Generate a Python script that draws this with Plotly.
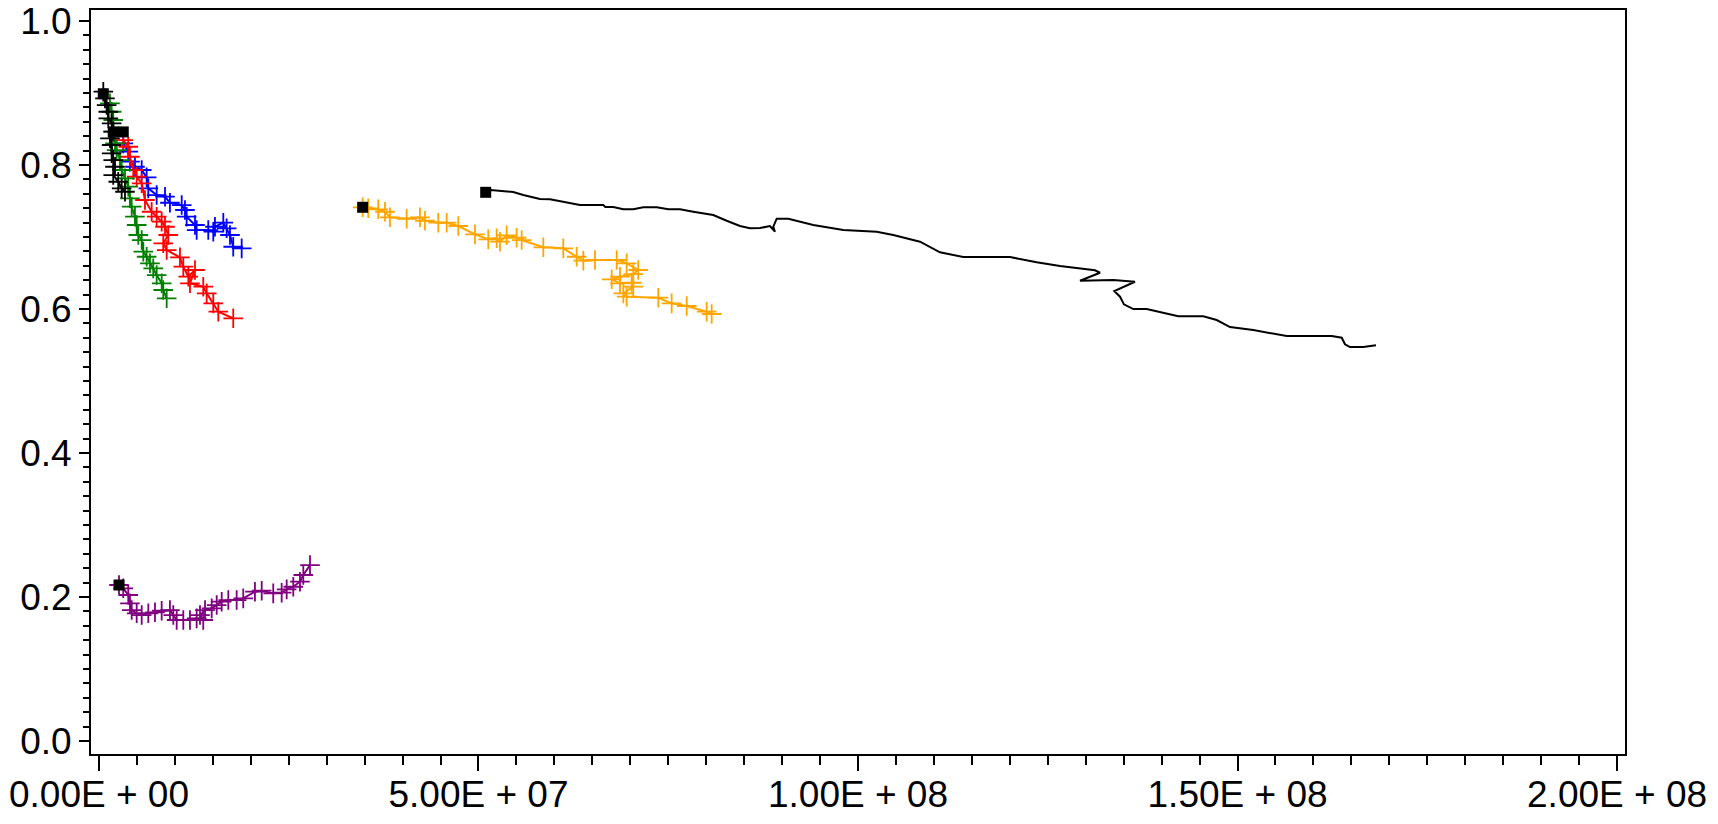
import numpy as np
import plotly.graph_objects as go

SCALE = 1e6  # x values below are in millions

blue_x = [3.20, 3.86, 4.08, 4.74, 5.63, 6.28, 6.50, 7.60, 8.70, 9.35, 10.90, 11.33, 11.55, 12.65, 12.87, 14.40, 15.06, 15.28, 16.38, 16.82, 17.26, 17.69, 18.80]
blue_y = [0.8301, 0.8185, 0.8046, 0.7976, 0.7931, 0.7829, 0.7676, 0.7583, 0.7560, 0.7476, 0.7444, 0.7375, 0.7282, 0.7167, 0.7097, 0.7097, 0.7074, 0.7143, 0.7199, 0.7121, 0.7028, 0.6865, 0.6843]

red_x = [3.20, 3.86, 4.08, 4.52, 4.97, 5.63, 6.06, 6.94, 7.60, 8.26, 8.70, 9.13, 8.47, 8.92, 10.67, 11.11, 11.77, 12.65, 11.99, 13.74, 14.19, 15.06, 15.72, 17.69]
red_y = [0.8347, 0.8254, 0.8115, 0.7931, 0.7838, 0.7746, 0.7514, 0.7351, 0.7282, 0.7213, 0.7143, 0.7028, 0.6913, 0.6819, 0.6718, 0.6588, 0.6449, 0.6542, 0.6357, 0.6310, 0.6218, 0.6079, 0.5963, 0.5871]

green_x = [1.45, 1.67, 1.88, 1.88, 2.11, 2.33, 2.77, 2.99, 3.43, 3.86, 4.08, 4.31, 4.74, 4.97, 5.18, 5.63, 5.84, 6.28, 6.72, 7.15, 7.60, 8.26, 8.47, 8.92]
green_y = [0.8857, 0.8740, 0.8625, 0.8463, 0.8301, 0.8208, 0.8069, 0.7931, 0.7815, 0.7699, 0.7538, 0.7421, 0.7282, 0.7167, 0.7028, 0.6958, 0.6796, 0.6726, 0.6635, 0.6565, 0.6472, 0.6357, 0.6264, 0.6149]

black_x = [0.57, 0.79, 1.01, 1.23, 1.23, 1.67, 1.88, 1.45, 1.67, 1.67, 1.88, 2.11, 1.88, 2.54, 2.99, 3.43]
black_y = [0.9018, 0.8926, 0.8833, 0.8740, 0.8649, 0.8579, 0.8463, 0.8371, 0.8278, 0.8163, 0.8069, 0.7976, 0.7861, 0.7768, 0.7676, 0.7629]

orange_x = [34.74, 35.48, 36.80, 37.68, 38.34, 40.54, 42.29, 42.95, 44.70, 45.81, 47.34, 49.54, 51.29, 52.40, 52.83, 53.71, 55.03, 55.69, 58.54, 61.17, 62.94, 63.81, 65.35, 68.21, 69.52, 71.05, 70.39, 68.64, 67.55, 68.64, 70.18, 70.39, 69.08, 69.52, 73.69, 75.45, 77.43, 80.06, 80.72]
orange_y = [0.7413, 0.7399, 0.7385, 0.7351, 0.7274, 0.7254, 0.7274, 0.7226, 0.7199, 0.7199, 0.7153, 0.7038, 0.6968, 0.6982, 0.6935, 0.7024, 0.6990, 0.6958, 0.6857, 0.6843, 0.6726, 0.6671, 0.6681, 0.6681, 0.6635, 0.6542, 0.6486, 0.6449, 0.6413, 0.6357, 0.6365, 0.6310, 0.6218, 0.6171, 0.6157, 0.6079, 0.6042, 0.5963, 0.5931]

purple_x = [2.64, 3.20, 3.86, 4.08, 4.31, 4.97, 5.63, 6.50, 7.38, 8.26, 9.35, 9.79, 10.24, 11.11, 11.99, 12.87, 13.74, 13.31, 13.97, 14.85, 15.51, 16.17, 17.04, 18.14, 19.01, 20.55, 21.44, 22.96, 24.07, 24.73, 25.60, 26.48, 26.92, 27.80]
purple_y = [0.2167, 0.2121, 0.2028, 0.1913, 0.1819, 0.1774, 0.1750, 0.1774, 0.1788, 0.1810, 0.1819, 0.1750, 0.1681, 0.1681, 0.1681, 0.1704, 0.1681, 0.1750, 0.1819, 0.1843, 0.1889, 0.1935, 0.1958, 0.1958, 0.1982, 0.2074, 0.2088, 0.2051, 0.2060, 0.2107, 0.2143, 0.2213, 0.2306, 0.2444]

line_x = [50.95, 51.61, 54.58, 55.90, 58.10, 59.42, 63.37, 66.44, 66.71, 67.76, 69.08, 70.39, 71.71, 73.48, 75.01, 76.55, 78.30, 80.93, 82.70, 84.45, 85.77, 87.09, 88.40, 89.06, 88.84, 89.29, 90.82, 94.11, 98.06, 99.83, 102.46, 104.65, 108.17, 110.80, 113.87, 120.03, 123.54, 126.61, 131.22, 131.88, 129.25, 133.63, 136.49, 133.77, 134.52, 135.04, 136.27, 138.03, 142.20, 145.49, 147.26, 149.01, 152.08, 156.48, 162.41, 163.73, 164.16, 164.82, 166.57, 168.24]
line_y = [0.7621, 0.7653, 0.7625, 0.7583, 0.7528, 0.7524, 0.7444, 0.7444, 0.7417, 0.7417, 0.7385, 0.7385, 0.7413, 0.7413, 0.7385, 0.7385, 0.7351, 0.7306, 0.7226, 0.7153, 0.7121, 0.7125, 0.7153, 0.7074, 0.7143, 0.7254, 0.7254, 0.7167, 0.7097, 0.7088, 0.7074, 0.7028, 0.6935, 0.6788, 0.6722, 0.6722, 0.6649, 0.6597, 0.6538, 0.6504, 0.6393, 0.6403, 0.6379, 0.6250, 0.6171, 0.6065, 0.6000, 0.6000, 0.5899, 0.5899, 0.5847, 0.5750, 0.5708, 0.5625, 0.5625, 0.5601, 0.5510, 0.5472, 0.5472, 0.5496]

start_x = [0.57, 1.88, 3.20, 34.74, 50.95, 2.64]
start_y = [0.8990, 0.8460, 0.8460, 0.7413, 0.7621, 0.2167]

x_tickvals = [0, 50e6, 100e6, 150e6, 200e6]
x_ticktext = ["0.00E + 00", "5.00E + 07", "1.00E + 08", "1.50E + 08", "2.00E + 08"]
y_tickvals = [0.0, 0.2, 0.4, 0.6, 0.8, 1.0]
y_ticktext = ["0.0", "0.2", "0.4", "0.6", "0.8", "1.0"]

fig = go.Figure()

def add_series(xs, ys, color, markers=True):
    fig.add_trace(go.Scatter(
        x=np.array(xs) * SCALE, y=ys,
        mode="lines+markers" if markers else "lines",
        line=dict(color=color, width=2),
        marker=dict(symbol="cross-thin", size=14, line=dict(color=color, width=1.8)),
        showlegend=False, hoverinfo="skip"))

add_series(blue_x, blue_y, "#0000FF")
add_series(red_x, red_y, "#FF0000")
add_series(green_x, green_y, "#008000")
add_series(black_x, black_y, "#000000")
add_series(orange_x, orange_y, "#FFA500")
add_series(purple_x, purple_y, "#800080")
add_series(line_x, line_y, "#000000", markers=False)

fig.add_trace(go.Scatter(
    x=np.array(start_x) * SCALE, y=start_y, mode="markers",
    marker=dict(symbol="square", size=11, color="#000000"),
    showlegend=False, hoverinfo="skip"))

font = dict(family="Liberation Sans, Arial, sans-serif", size=37, color="#000000")

fig.update_layout(
    width=1718, height=824,
    margin=dict(l=91, r=93, t=10, b=70, autoexpand=False),
    plot_bgcolor="white", paper_bgcolor="white",
    font=font,
    xaxis=dict(
        range=[-1.05e6, 2.0105e8], showgrid=False, zeroline=False, automargin=False,
        showline=True, linecolor="black", linewidth=2, mirror=True,
        ticks="outside", ticklen=15, tickwidth=2, tickcolor="black",
        tickvals=x_tickvals, ticktext=x_ticktext, tickfont=font,
        ticklabelstandoff=-8,
        minor=dict(dtick=5e6, tick0=0, ticks="outside", ticklen=9, tickwidth=1.5, tickcolor="black", showgrid=False),
    ),
    yaxis=dict(
        range=[-0.018, 1.0153], showgrid=False, zeroline=False, automargin=False,
        showline=True, linecolor="black", linewidth=2, mirror=True,
        ticks="outside", ticklen=10, tickwidth=2, tickcolor="black",
        tickvals=y_tickvals, ticktext=y_ticktext, tickfont=font,
        ticklabelstandoff=0,
        minor=dict(dtick=0.02, tick0=0, ticks="outside", ticklen=6, tickwidth=1.5, tickcolor="black", showgrid=False),
    ),
)

fig.write_html("out.html")
